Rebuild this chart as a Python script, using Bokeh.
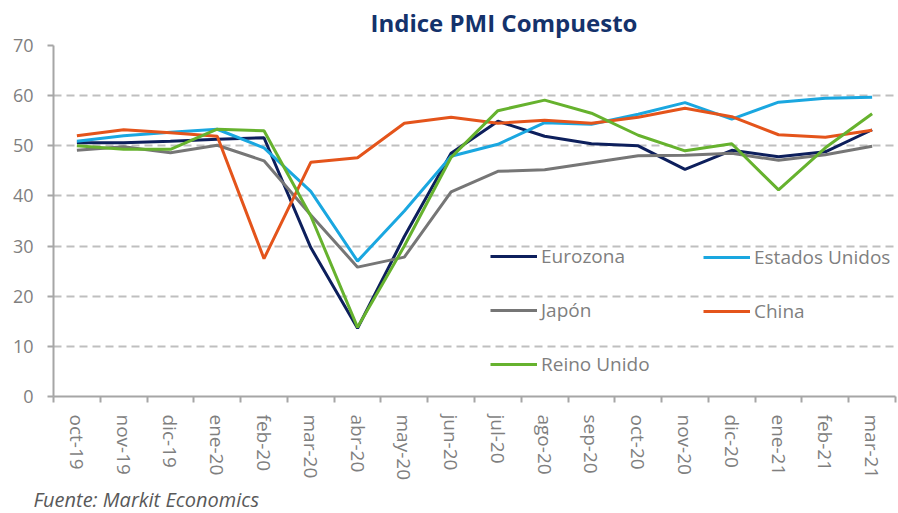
import math
from bokeh.plotting import figure
from bokeh.models import (FixedTicker, Legend, LegendItem, Title, Range1d)
from bokeh.embed import file_html
from bokeh.resources import INLINE

months = ["oct-19", "nov-19", "dic-19", "ene-20", "feb-20", "mar-20", "abr-20", "may-20",
          "jun-20", "jul-20", "ago-20", "sep-20", "oct-20", "nov-20", "dic-20", "ene-21",
          "feb-21", "mar-21"]
eurozona = [50.6, 50.6, 50.9, 51.3, 51.6, 29.7, 13.6, 31.9, 48.5, 54.9, 51.9, 50.4, 50.0, 45.3, 49.1, 47.8, 48.8, 53.2]
estados_unidos = [50.9, 52.0, 52.7, 53.3, 49.6, 40.9, 27.0, 37.0, 47.9, 50.3, 54.6, 54.3, 56.3, 58.6, 55.3, 58.7, 59.5, 59.7]
japon = [49.1, 49.8, 48.6, 50.1, 47.0, 36.2, 25.8, 27.8, 40.8, 44.9, 45.2, 46.6, 48.0, 48.1, 48.5, 47.1, 48.2, 49.9]
china = [52.0, 53.2, 52.6, 51.9, 27.5, 46.7, 47.6, 54.5, 55.7, 54.5, 55.1, 54.5, 55.7, 57.5, 55.8, 52.2, 51.7, 53.1]
reino_unido = [50.0, 49.3, 49.3, 53.3, 53.0, 36.0, 13.8, 30.0, 47.7, 57.0, 59.1, 56.5, 52.1, 49.0, 50.4, 41.2, 49.6, 56.4]
y_ticks = [0, 10, 20, 30, 40, 50, 60, 70]

FONT = "Open Sans"
GRAY_TXT = "#7f7f7f"

x = list(range(len(months)))

p = figure(width=898, height=513, output_backend="svg", toolbar_location=None,
           x_range=Range1d(-0.5, len(months) - 0.5), y_range=Range1d(0, 70),
           min_border_left=53, min_border_right=3, min_border_top=45, min_border_bottom=115)
p.outline_line_color = None
p.background_fill_color = "white"

p.title.text = "Indice PMI Compuesto"
p.title.text_font = FONT
p.title.text_font_size = "24px"
p.title.text_font_style = "bold"
p.title.text_color = "#14326b"
p.title.align = "left"
p.title.vertical_align = "top"
p.title.offset = 317
p.title.standoff = 10

series = [
    ("Eurozona", eurozona, "#0d1f5c"),
    ("Estados Unidos", estados_unidos, "#1aa7e0"),
    ("Japón", japon, "#767676"),
    ("China", china, "#e4541b"),
    ("Reino Unido", reino_unido, "#66b22e"),
]
renderers = {}
for name, vals, col in series:
    renderers[name] = p.line(x, vals, line_color=col, line_width=3)

# axes
xa = p.xaxis[0]
xa.ticker = FixedTicker(ticks=x, minor_ticks=[i - 0.5 for i in range(len(months) + 1)])
xa.major_label_overrides = {i: m for i, m in enumerate(months)}
xa.major_label_orientation = -math.pi / 2
xa.major_tick_out = 0
xa.major_tick_in = 0
xa.minor_tick_out = 6
xa.minor_tick_in = 0
xa.minor_tick_line_color = "#a6a6a6"
xa.minor_tick_line_width = 2
xa.axis_line_color = "#a6a6a6"
xa.axis_line_width = 2
xa.major_label_text_font = FONT
xa.major_label_text_font_size = "19px"
xa.major_label_text_color = GRAY_TXT
xa.major_label_standoff = 12

ya = p.yaxis[0]
ya.ticker = FixedTicker(ticks=y_ticks)
ya.major_tick_out = 6
ya.major_tick_in = 0
ya.minor_tick_line_color = None
ya.major_tick_line_color = "#a6a6a6"
ya.major_tick_line_width = 2
ya.axis_line_color = "#a6a6a6"
ya.axis_line_width = 2
ya.major_label_text_font = FONT
ya.major_label_text_font_size = "18px"
ya.major_label_text_color = GRAY_TXT
ya.major_label_standoff = 14

p.xgrid.grid_line_color = None
p.ygrid.grid_line_color = "#bfbfbf"
p.ygrid.grid_line_dash = "8 5"
p.ygrid.grid_line_width = 2

def make_legend(names, loc):
    lg = Legend(items=[LegendItem(label=n, renderers=[renderers[n]]) for n in names],
                location=loc, orientation="vertical")
    lg.border_line_color = None
    lg.background_fill_alpha = 0
    lg.padding = 0
    lg.margin = 0
    lg.glyph_width = 47
    lg.glyph_height = 30
    lg.label_height = 30
    lg.spacing = 24
    lg.label_standoff = 4
    lg.label_text_font = FONT
    lg.label_text_font_size = "19px"
    lg.label_text_color = GRAY_TXT
    p.add_layout(lg)

make_legend(["Eurozona", "Japón", "Reino Unido"], (437, 17))
make_legend(["Estados Unidos", "China"], (650, 70))

src = Title(text="Fuente: Markit Economics", text_font=FONT, text_font_size="20px",
            text_font_style="italic", text_color="#595959", align="left", offset=-20,
            standoff=1)
p.add_layout(src, "below")

open("out.html", "w").write(file_html(p, INLINE))
